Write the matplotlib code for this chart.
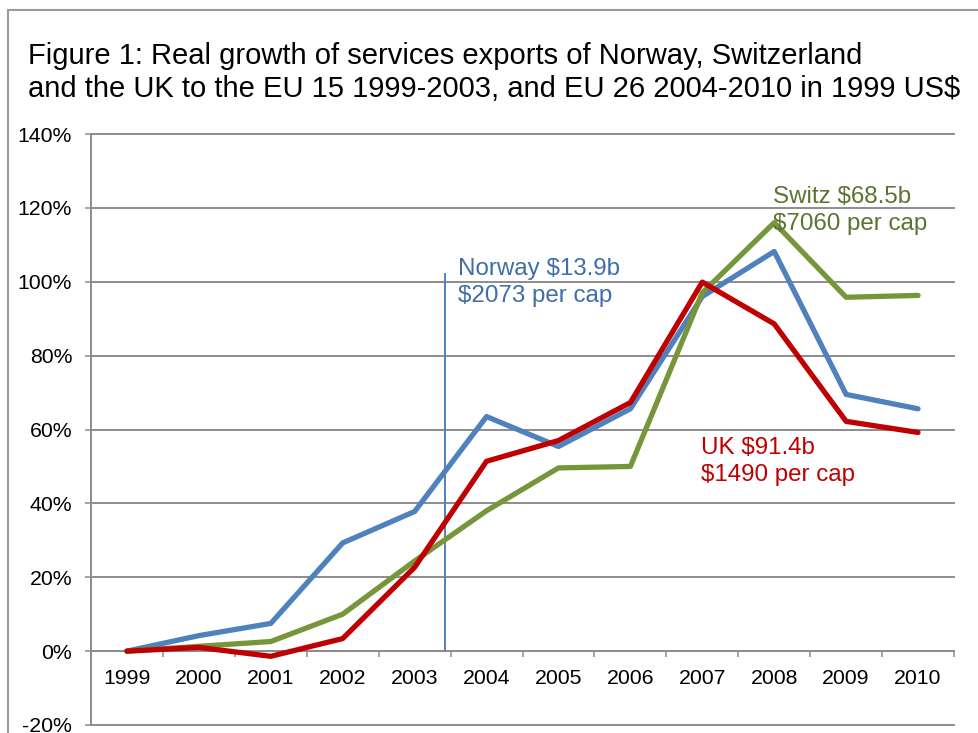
import numpy as np
import matplotlib.pyplot as plt
from matplotlib.patches import Rectangle

plt.rcParams['font.family'] = ['Liberation Sans', 'DejaVu Sans']

years = ['1999', '2000', '2001', '2002', '2003', '2004',
         '2005', '2006', '2007', '2008', '2009', '2010']
norway = [0, 4.2, 7.5, 29.3, 37.8, 63.5, 55.4, 65.6, 96.0, 108.2, 69.5, 65.6]
switz = [0, 1.3, 2.6, 10.0, 24.4, 38.0, 49.6, 50.0, 97.0, 116.0, 95.8, 96.3]
uk = [0, 1.0, -1.4, 3.4, 22.7, 51.4, 57.0, 67.3, 99.9, 88.6, 62.2, 59.2]
yticks = [-20, 0, 20, 40, 60, 80, 100, 120, 140]

c_blue = '#4F81BD'
c_green = '#77963C'
c_red = '#C00000'
grid_c = '#8C8C8C'

W, H = 979, 733
fig = plt.figure(figsize=(W / 100, H / 100), dpi=100)
fig.patches.append(Rectangle((8 / W, -0.1), 1.2, 1 - 10 / H + 0.1,
                             transform=fig.transFigure, fill=False,
                             edgecolor='#9A9A9A', linewidth=1.5))

fig.text(28 / W, 1 - 64 / H, 'Figure 1: Real growth of services exports of Norway, Switzerland',
         fontsize=21, va='baseline')
fig.text(28 / W, 1 - 97 / H, 'and the UK to the EU 15 1999-2003, and EU 26 2004-2010 in 1999 US$',
         fontsize=21, va='baseline')

ax = fig.add_axes([91 / W, 1 - 725 / H, (954 - 91) / W, (725 - 134) / H])
x = np.arange(len(years))

for t in yticks:
    ax.axhline(t, color=grid_c, lw=1.4, zorder=1, clip_on=False)

ax.plot([4.42, 4.42], [0, 102], color=c_blue, lw=1.4, zorder=2)
ax.plot(x, norway, color=c_blue, lw=3.8, zorder=3, solid_capstyle='round')
ax.plot(x, switz, color=c_green, lw=3.8, zorder=3, solid_capstyle='round')
ax.plot(x, uk, color=c_red, lw=3.8, zorder=4, solid_capstyle='round')

ax.set_xlim(-0.5, 11.5)
ax.set_ylim(-20, 140)
ax.set_yticks(yticks)
ax.set_yticklabels([f'{t}%' for t in yticks])
ax.set_xticks(x)
ax.set_xticklabels(years)
ax.set_xticks(np.arange(-0.5, 12, 1), minor=True)

for s in ['top', 'right']:
    ax.spines[s].set_visible(False)
ax.spines['left'].set_color(grid_c)
ax.spines['left'].set_linewidth(1.4)
ax.spines['bottom'].set_position(('data', 0))
ax.spines['bottom'].set_color(grid_c)
ax.spines['bottom'].set_linewidth(1.4)

ax.tick_params(axis='y', length=4.5, width=1.1, color=grid_c, pad=9, labelsize=15.3)
ax.tick_params(axis='x', which='major', length=0, pad=13, labelsize=15.3)
ax.tick_params(axis='x', which='minor', length=4.5, width=1.1, color=grid_c)

ax.text(4.60, 106.3, 'Norway $13.9b\n$2073 per cap', color='#3F6EA8',
        fontsize=17.4, va='top', ha='left', linespacing=1.28, zorder=5)
ax.text(8.99, 125.8, 'Switz $68.5b\n$7060 per cap', color='#5A7431',
        fontsize=17.4, va='top', ha='left', linespacing=1.28, zorder=5)
ax.text(7.98, 58.0, 'UK $91.4b\n$1490 per cap', color=c_red,
        fontsize=17.4, va='top', ha='left', linespacing=1.28, zorder=5)

fig.savefig('out.png', dpi=100)
